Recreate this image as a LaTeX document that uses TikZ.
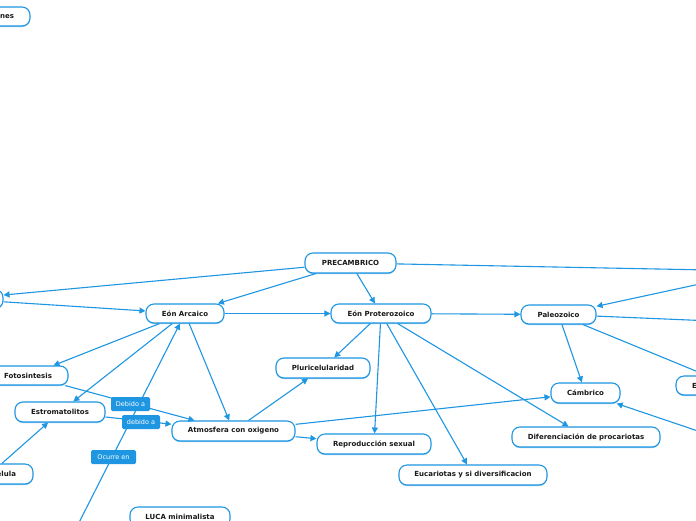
\documentclass[tikz,border=0pt]{standalone}
\usepackage{fontspec}
\setmainfont{DejaVu Sans}
\usetikzlibrary{arrows.meta,shadows}
\definecolor{mblue}{RGB}{30,150,226}
\definecolor{sblue}{RGB}{140,200,240}
\tikzset{
  mbox/.style={draw=mblue, line width=1.1pt, fill=white, rounded corners=8pt,
    inner sep=0pt, font=\fontsize{7}{8.4}\selectfont\bfseries, text=black!90,
    drop shadow={shadow xshift=0pt, shadow yshift=-1.1pt, fill=sblue, opacity=1}},
  lbl/.style={fill=mblue, draw=none, rounded corners=1.5pt, inner sep=0pt,
    minimum height=14pt, text=white, font=\fontsize{6.5}{7.8}\selectfont},
  conn/.style={draw=mblue, line width=1.1pt, -{Triangle[length=6pt,width=6pt]}},
  plainconn/.style={draw=mblue, line width=1.1pt}
}
\begin{document}
\begin{tikzpicture}[x=1pt,y=-1pt]
\useasboundingbox (0,0) rectangle (696,520);
\fill[white] (0,0) rectangle (696,520);
\clip (0,0) rectangle (696,520);
% nodes
\node[mbox, minimum width=72pt, minimum height=19pt] (nes) at (-6,16.5) {\makebox[40pt][r]{nes}};
\node[mbox, minimum width=91pt, minimum height=20pt] (pre) at (350.5,263) {PRECAMBRICO};
\node[mbox, minimum width=86pt, minimum height=19pt] (lnode) at (-40,299) {};
\node[mbox, minimum width=78pt, minimum height=19pt] (arc) at (185,313.5) {Eón Arcaico};
\node[mbox, minimum width=100pt, minimum height=19pt] (pro) at (381,313.5) {Eón Proterozoico};
\node[mbox, minimum width=75pt, minimum height=19pt] (pal) at (558.5,314.5) {Paleozoico};
\node[mbox, minimum width=80pt, minimum height=19pt] (foto) at (28,375.5) {Fotosintesis};
\node[mbox, minimum width=90pt, minimum height=20pt] (est) at (60,412) {Estromatolitos};
\node[mbox, minimum width=86pt, minimum height=20pt] (cel) at (-10,474) {\makebox[52pt][r]{élula}};
\node[mbox, minimum width=123pt, minimum height=20pt] (atm) at (233.5,431) {Atmosfera con oxigeno};
\node[mbox, minimum width=94pt, minimum height=20pt] (plu) at (323,368) {Pluricelularidad};
\node[mbox, minimum width=114pt, minimum height=20pt] (rep) at (374,444) {Reproducción sexual};
\node[mbox, minimum width=148pt, minimum height=20pt] (euc) at (473,475) {Eucariotas y si diversificacion};
\node[mbox, minimum width=148pt, minimum height=20pt] (dif) at (586,437) {Diferenciación de procariotas};
\node[mbox, minimum width=69pt, minimum height=20pt] (cam) at (585.5,393) {Cámbrico};
\node[mbox, minimum width=72pt, minimum height=19pt] (enode) at (712,385.5) {\makebox[40pt][l]{E}};
\node[mbox, minimum width=100pt, minimum height=20pt] (luca) at (180,517) {LUCA minimalista};
% off-picture ends
\coordinate (r1) at (760,271);
\coordinate (r2) at (760,323);
\coordinate (etop) at (708,376);
\coordinate (r3) at (760,452);
\coordinate (src) at (60,560);
% connectors
\draw[conn] (pre) -- (lnode);
\draw[conn] (lnode) -- (arc);
\draw[conn] (pre) -- (arc);
\draw[conn] (pre) -- (pro);
\draw[plainconn] (pre) -- (r1);
\draw[conn] (r1) -- (pal);
\draw[conn] (arc) -- (pro);
\draw[conn] (pro) -- (pal);
\draw[plainconn] (pal) -- (r2);
\draw[conn] (pal) -- (etop);
\draw[conn] (pal) -- (cam);
\draw[conn] (r3) -- (cam);
\draw[conn] (arc) -- (foto);
\draw[conn] (arc) -- (est);
\draw[conn] (arc) -- (atm);
\draw[conn] (src) -- (arc);
\draw[conn] (foto) -- (atm);
\draw[conn] (est) -- (atm);
\draw[conn] (cel) -- (est);
\draw[conn] (atm) -- (plu);
\draw[conn] (atm) -- (cam);
\draw[conn] (atm) -- (rep);
\draw[conn] (pro) -- (plu);
\draw[conn] (pro) -- (rep);
\draw[conn] (pro) -- (euc);
\draw[conn] (pro) -- (dif);
% connector labels
\node[lbl, minimum width=39pt] (l1) at (130.5,404) {Debido a};
\node[lbl, minimum width=38pt] (l2) at (141,422) {debido a};
\node[lbl, minimum width=45pt] (l3) at (113.5,457) {Ocurre en};
\end{tikzpicture}
\end{document}
